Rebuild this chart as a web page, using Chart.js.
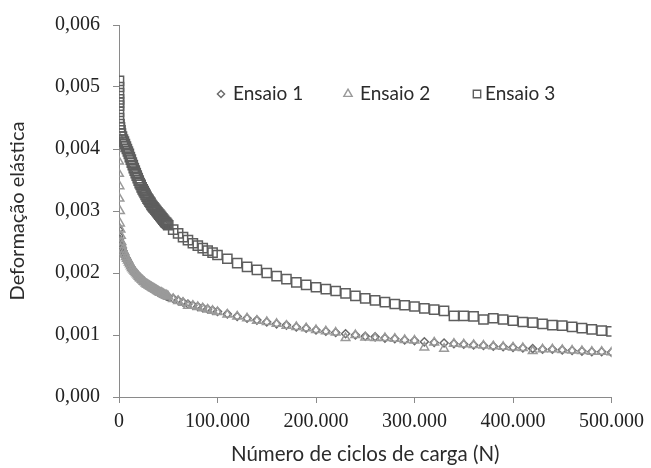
<!DOCTYPE html>
<html>
<head>
<meta charset="utf-8">
<script src="https://cdn.jsdelivr.net/npm/chart.js@4/dist/chart.umd.min.js"></script>
<style>
  html, body { margin: 0; padding: 0; background: #fff; }
  #grafica { display: block; }
</style>
</head>
<body>
<canvas id="grafica" width="651" height="468"></canvas>
<script>
// Series names
const nomes = ['Ensaio 1', 'Ensaio 2', 'Ensaio 3'];

// Initial cycles (N) near zero, each series has its own
const xInicio1 = [0, 0, 500, 1000, 1500, 2000];
const yInicio1 = [0.0027, 0.0026, 0.00255, 0.00250, 0.00247, 0.00244];

const xInicio2 = [0, 0, 0, 0, 500, 500, 1000, 1000, 1500, 2000, 2500];
const yInicio2 = [0.0042, 0.0040, 0.0038, 0.0036, 0.0034, 0.0032, 0.0030, 0.0028, 0.0027, 0.0026, 0.0025];

const xInicio3 = [0, 0, 0, 0, 0, 0, 0, 0, 500, 1000, 1500, 2000];
const yInicio3 = [0.0051, 0.0050, 0.0049, 0.0048, 0.00475, 0.0047, 0.0046, 0.0045, 0.0044, 0.00435, 0.0043, 0.00425];

// Shared cycles (N) after the start
const ciclos = [
  3000, 4000, 5000, 6000, 7000, 8000, 9000, 10000, 11000, 12000,
  13000, 14000, 15000, 16000, 17000, 18000, 19000, 20000, 21000, 22000,
  23000, 24000, 25000, 26000, 27000, 28000, 29000, 30000, 31000, 32000,
  33000, 34000, 35000, 36000, 37000, 38000, 39000, 40000, 41000, 42000,
  43000, 44000, 45000, 46000, 47000, 48000, 49000, 50000,
  55000, 60000, 65000, 70000, 75000, 80000, 85000, 90000, 95000,
  100000, 110000, 120000, 130000, 140000, 150000, 160000, 170000, 180000, 190000,
  200000, 210000, 220000, 230000, 240000, 250000, 260000, 270000, 280000, 290000,
  300000, 310000, 320000, 330000, 340000, 350000, 360000, 370000, 380000, 390000,
  400000, 410000, 420000, 430000, 440000, 450000, 460000, 470000, 480000, 490000,
  500000
];

const ensaio1 = [
  0.00240, 0.00236, 0.00232, 0.00229, 0.00225, 0.00222, 0.00219, 0.00216, 0.00213, 0.00210,
  0.00207, 0.00205, 0.00203, 0.00201, 0.00199, 0.00197, 0.00195, 0.00193, 0.00191, 0.00190,
  0.00188, 0.00187, 0.00185, 0.00184, 0.00182, 0.00181, 0.00180, 0.00179, 0.00178, 0.00177,
  0.00176, 0.00175, 0.00174, 0.00173, 0.00172, 0.00171, 0.00170, 0.00169, 0.00168, 0.00168,
  0.00167, 0.00166, 0.00165, 0.00165, 0.00164, 0.00163, 0.00162, 0.00162,
  0.00159, 0.00156, 0.00153, 0.00150, 0.00148, 0.00146, 0.00144, 0.00142, 0.00140,
  0.00138, 0.00134, 0.00130, 0.00127, 0.00124, 0.00121, 0.00118, 0.00116, 0.00113, 0.00111,
  0.00108, 0.00106, 0.00104, 0.00102, 0.00100, 0.00098, 0.00097, 0.00095, 0.00094, 0.00092,
  0.00091, 0.00089, 0.00088, 0.00087, 0.00086, 0.00085, 0.00084, 0.00083, 0.00082, 0.00081,
  0.00080, 0.00079, 0.00078, 0.00077, 0.00077, 0.00076, 0.00075, 0.00074, 0.00073, 0.00073,
  0.00072
];

const ensaio2 = [
  0.00245, 0.00238, 0.00234, 0.00230, 0.00226, 0.00223, 0.00220, 0.00217, 0.00214, 0.00211,
  0.00208, 0.00206, 0.00204, 0.00202, 0.00200, 0.00198, 0.00196, 0.00194, 0.00192, 0.00191,
  0.00189, 0.00188, 0.00186, 0.00185, 0.00183, 0.00182, 0.00181, 0.00180, 0.00179, 0.00178,
  0.00177, 0.00176, 0.00175, 0.00174, 0.00173, 0.00172, 0.00171, 0.00170, 0.00169, 0.00168,
  0.00168, 0.00167, 0.00166, 0.00165, 0.00164, 0.00164, 0.00163, 0.00162,
  0.00158, 0.00155, 0.00152, 0.00147, 0.00147, 0.00145, 0.00143, 0.00141, 0.00139,
  0.00137, 0.00133, 0.00130, 0.00127, 0.00123, 0.00121, 0.00118, 0.00115, 0.00113, 0.00111,
  0.00108, 0.00106, 0.00104, 0.00095, 0.00100, 0.00096, 0.00095, 0.00095, 0.00094, 0.00092,
  0.00091, 0.00080, 0.00088, 0.00078, 0.00086, 0.00085, 0.00084, 0.00083, 0.00082, 0.00081,
  0.00080, 0.00079, 0.00074, 0.00077, 0.00077, 0.00076, 0.00075, 0.00074, 0.00073, 0.00073,
  0.00072
];

const ensaio3 = [
  0.00420, 0.00415, 0.00412, 0.00408, 0.00404, 0.00400, 0.00396, 0.00392, 0.00387, 0.00383,
  0.00378, 0.00374, 0.00369, 0.00365, 0.00361, 0.00357, 0.00353, 0.00349, 0.00345, 0.00342,
  0.00338, 0.00335, 0.00332, 0.00329, 0.00326, 0.00323, 0.00320, 0.00318, 0.00315, 0.00313,
  0.00310, 0.00308, 0.00306, 0.00304, 0.00302, 0.00300, 0.00298, 0.00296, 0.00294, 0.00292,
  0.00290, 0.00288, 0.00286, 0.00284, 0.00282, 0.00281, 0.00279, 0.00277,
  0.00270, 0.00264, 0.00258, 0.00253, 0.00248, 0.00244, 0.00240, 0.00236, 0.00233,
  0.00229, 0.00223, 0.00216, 0.00210, 0.00205, 0.00200, 0.00195, 0.00190, 0.00185, 0.00181,
  0.00177, 0.00174, 0.00171, 0.00167, 0.00163, 0.00159, 0.00156, 0.00153, 0.00150, 0.00148,
  0.00146, 0.00143, 0.00141, 0.00139, 0.00131, 0.00131, 0.00130, 0.00125, 0.00127, 0.00125,
  0.00123, 0.00121, 0.00120, 0.00118, 0.00116, 0.00115, 0.00113, 0.00111, 0.00109, 0.00107,
  0.00106
];

// Axis ticks
const yTicks = [0, 0.001, 0.002, 0.003, 0.004, 0.005, 0.006];
const xTicks = [0, 100000, 200000, 300000, 400000, 500000];

function pontos(xsIni, ysIni, ys) {
  const pts = [];
  for (let i = 0; i < xsIni.length; i++) pts.push({ x: xsIni[i], y: ysIni[i] });
  for (let i = 0; i < ciclos.length; i++) pts.push({ x: ciclos[i], y: ys[i] });
  return pts;
}

const estilos = [
  { pointStyle: 'rectRot', radius: 4, color: '#6a6a6a' },
  { pointStyle: 'triangle', radius: 5, color: '#9a9a9a' },
  { pointStyle: 'rect', radius: 6.5, color: '#5e5e5e' }
];

// Legend drawn inside the plot area, like the original
const legendaInterna = {
  id: 'legendaInterna',
  afterDraw(chart) {
    const ctx = chart.ctx;
    const itens = [
      { mx: 221, tx: 233, r: 3.6 },
      { mx: 348, tx: 360, r: 4.8 },
      { mx: 477, tx: 485, r: 5.2 }
    ];
    const y = 94;
    ctx.save();
    itens.forEach((it, i) => {
      ctx.strokeStyle = estilos[i].color;
      ctx.fillStyle = 'rgba(0,0,0,0)';
      ctx.lineWidth = 1.4;
      Chart.helpers.drawPoint(ctx, { pointStyle: estilos[i].pointStyle, radius: it.r, rotation: 0, borderWidth: 1.4 }, it.mx, y);
      ctx.fillStyle = '#2b2b2b';
      ctx.font = '19px Lato';
      ctx.textBaseline = 'middle';
      ctx.textAlign = 'left';
      ctx.fillText(nomes[i], it.tx, y);
    });
    ctx.restore();
  }
};

const datasets = [
  pontos(xInicio1, yInicio1, ensaio1),
  pontos(xInicio2, yInicio2, ensaio2),
  pontos(xInicio3, yInicio3, ensaio3)
].map((d, i) => ({
  label: nomes[i],
  data: d,
  showLine: false,
  pointStyle: estilos[i].pointStyle,
  pointRadius: estilos[i].radius,
  pointHoverRadius: estilos[i].radius,
  pointBorderWidth: 1.5,
  pointBorderColor: estilos[i].color,
  pointBackgroundColor: 'rgba(0,0,0,0)',
  order: 2 - i
}));

new Chart(document.getElementById('grafica').getContext('2d'), {
  type: 'scatter',
  data: { datasets: datasets },
  options: {
    responsive: false,
    animation: false,
    layout: { padding: { top: 22, right: 39, left: 0, bottom: 0 } },
    plugins: {
      legend: { display: false },
      tooltip: { enabled: false }
    },
    scales: {
      x: {
        type: 'linear',
        min: 0,
        max: 500000,
        afterBuildTicks: (s) => { s.ticks = xTicks.map(v => ({ value: v })); },
        afterFit: (s) => { s.height = 71; },
        grid: { drawOnChartArea: false, drawTicks: true, tickLength: 6, color: '#8a8a8a' },
        border: { color: '#8a8a8a', width: 1 },
        ticks: {
          padding: 7,
          color: '#222',
          font: { family: 'Liberation Serif', size: 20 },
          maxRotation: 0,
          callback: (v) => v === 0 ? '0' : (v / 1000) + '.000'
        },
        title: {
          display: true,
          text: 'Número de ciclos de carga (N)',
          color: '#2b2b2b',
          font: { family: 'Lato', size: 20.5 },
          padding: { top: 0, bottom: 1 }
        }
      },
      y: {
        type: 'linear',
        min: 0,
        max: 0.006,
        afterBuildTicks: (s) => { s.ticks = yTicks.map(v => ({ value: v })); },
        afterFit: (s) => { s.width = 119; },
        grid: { drawOnChartArea: false, drawTicks: true, tickLength: 6, color: '#8a8a8a' },
        border: { color: '#8a8a8a', width: 1 },
        ticks: {
          padding: 13,
          color: '#222',
          font: { family: 'Liberation Serif', size: 20 },
          callback: (v) => v.toFixed(3).replace('.', ',')
        },
        title: {
          display: true,
          text: 'Deformação elástica',
          color: '#2b2b2b',
          font: { family: 'Lato', size: 20 },
          padding: { top: 6, bottom: 0 }
        }
      }
    }
  },
  plugins: [legendaInterna]
});
</script>
</body>
</html>
